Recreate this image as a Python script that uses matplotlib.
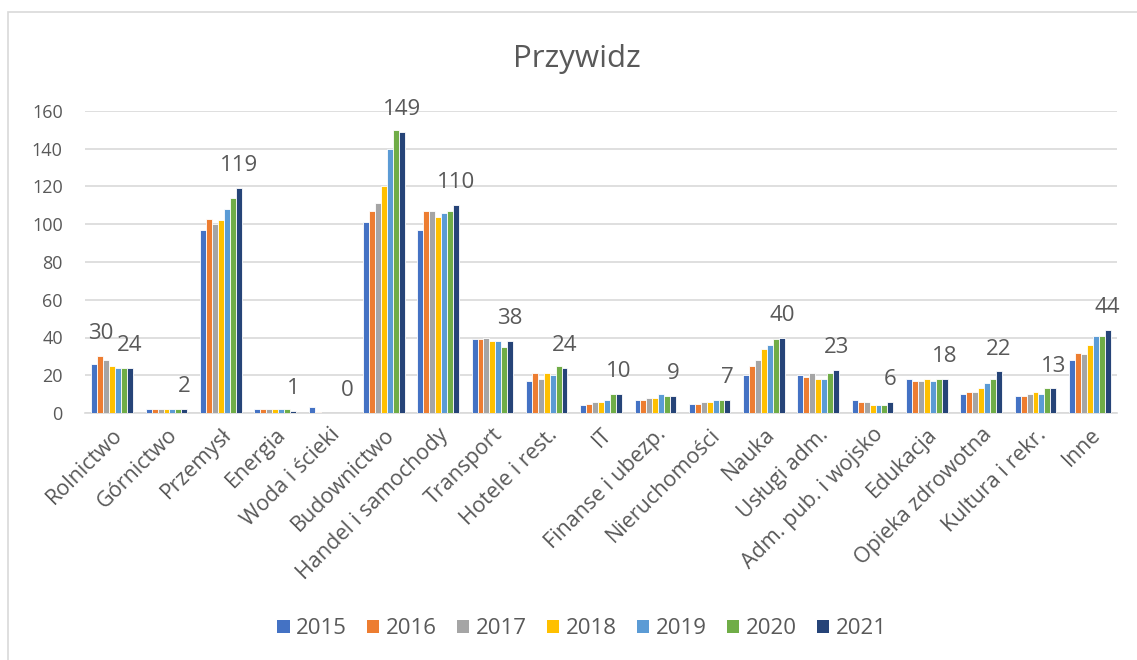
import matplotlib
matplotlib.use("Agg")
import matplotlib.pyplot as plt
import numpy as np
from matplotlib.patches import Rectangle, Patch

plt.rcParams['font.family'] = ['Open Sans', 'DejaVu Sans']

categories = ["Rolnictwo", "Górnictwo", "Przemysł", "Energia", "Woda i ścieki",
              "Budownictwo", "Handel i samochody", "Transport", "Hotele i rest.", "IT",
              "Finanse i ubezp.", "Nieruchomości", "Nauka", "Usługi adm.",
              "Adm. pub. i wojsko", "Edukacja", "Opieka zdrowotna", "Kultura i rekr.", "Inne"]

years = ["2015", "2016", "2017", "2018", "2019", "2020", "2021"]

v2015 = [26, 2, 97, 2, 3, 101, 97, 39, 17, 4, 7, 5, 20, 20, 7, 18, 10, 9, 28]
v2016 = [30, 2, 103, 2, 0.5, 107, 107, 39, 21, 5, 7, 5, 25, 19, 6, 17, 11, 9, 32]
v2017 = [28, 2, 100, 2, 0, 111, 107, 40, 18, 6, 8, 6, 28, 21, 6, 17, 11, 10, 31]
v2018 = [25, 2, 102, 2, 0, 120, 104, 38, 21, 6, 8, 6, 34, 18, 4, 18, 13, 11, 36]
v2019 = [24, 2, 108, 2, 0, 140, 106, 38, 20, 7, 10, 7, 36, 18, 4, 17, 16, 10, 41]
v2020 = [24, 2, 114, 2, 0, 150, 107, 35, 25, 10, 9, 7, 39, 21, 4, 18, 18, 13, 41]
v2021 = [24, 2, 119, 1, 0, 149, 110, 38, 24, 10, 9, 7, 40, 23, 6, 18, 22, 13, 44]

series = [v2015, v2016, v2017, v2018, v2019, v2020, v2021]
colors = ["#4472C4", "#ED7D31", "#A5A5A5", "#FFC000", "#5B9BD5", "#70AD47", "#264478"]

# Only Rolnictwo 2016 gets an extra label besides 2021 labels
extra_label = (0, 1)  # (category index, series index)

TXT = "#595959"
fig = plt.figure(figsize=(11.37, 6.6), dpi=100)
ax = fig.add_axes([85/1137, 1-413/660, (1117-85)/1137, (413-111)/660])

n = len(categories)
x = np.arange(n)
group = 0.766
bw = group / 7
for i, (vals, c) in enumerate(zip(series, colors)):
    pos = x - group/2 + bw*(i+0.5)
    ax.bar(pos, vals, width=bw, color=c, edgecolor="white", linewidth=0.6, zorder=3)
    for j, v in enumerate(vals):
        if i == 6 or (j, i) == extra_label:
            ax.annotate(f"{v:g}", (pos[j], v), xytext=(0, 12.2), textcoords="offset points",
                        ha="center", va="baseline", fontsize=16, color=TXT,
                        annotation_clip=False, zorder=4)

ax.set_xlim(-0.5, n-0.5)
ax.set_ylim(0, 160)
ax.set_yticks(np.arange(0, 161, 20))
ax.grid(axis="y", color="#d9d9d9", linewidth=1.2, zorder=0)
ax.set_axisbelow(True)
for s in ["top", "right", "left"]:
    ax.spines[s].set_visible(False)
ax.spines["bottom"].set_color("#d9d9d9")
ax.spines["bottom"].set_linewidth(1.2)
ax.tick_params(axis="y", length=0, pad=16, labelsize=13, labelcolor=TXT)
ax.tick_params(axis="x", length=0, pad=8)
ax.set_xticks(x)
ax.set_xticklabels(categories, rotation=45, ha="right", rotation_mode="anchor",
                   fontsize=15.5, color=TXT)

fig.text(577/1137, 1-67/660, "Przywidz", ha="center", va="baseline", fontsize=22.5, color=TXT)

handles = [Patch(facecolor=c, edgecolor="none") for c in colors]
leg = fig.legend(handles, years, loc="center", bbox_to_anchor=(582/1137, 1-629/660), ncol=7,
                 frameon=False, fontsize=16, handlelength=0.55, handleheight=0.55,
                 handletextpad=0.3, columnspacing=0.9, labelcolor=TXT)

fig.patches.append(Rectangle((8/1137, -0.1), 1.2, 1-12/660+0.1, transform=fig.transFigure,
                             fill=False, edgecolor="#d9d9d9", linewidth=1.2))

fig.savefig("out.png", dpi=100, facecolor="white")
